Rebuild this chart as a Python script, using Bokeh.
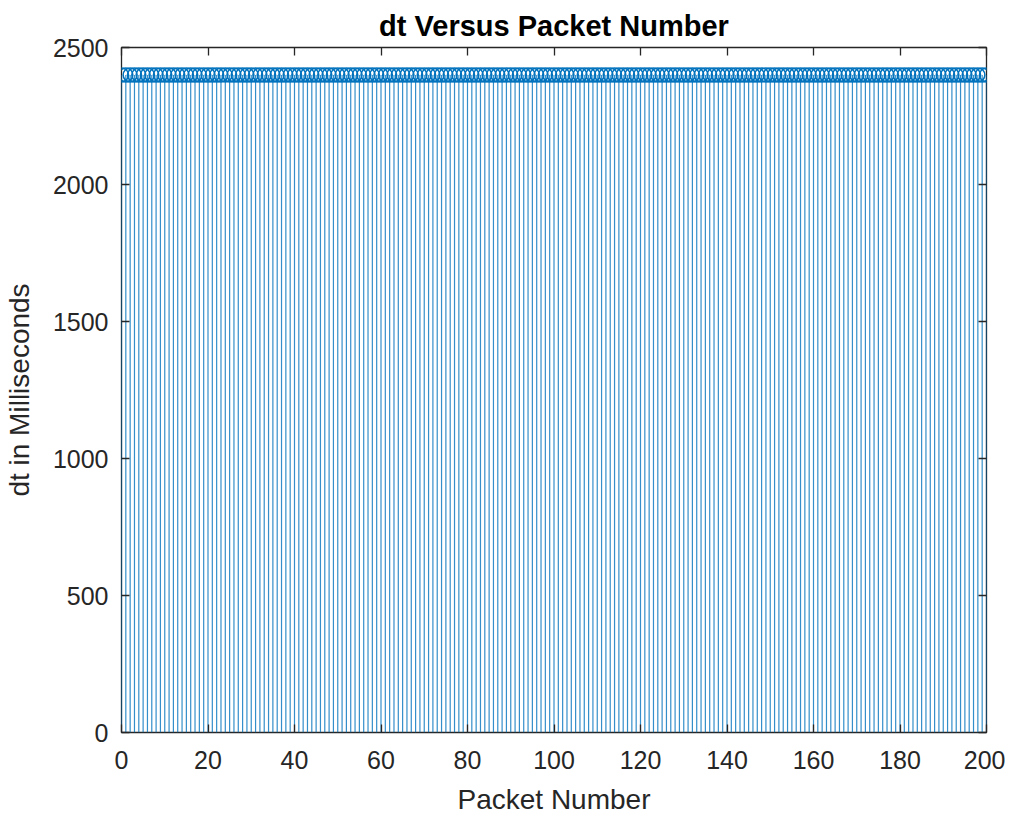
from bokeh.plotting import figure
from bokeh.models import LinearAxis, FixedTicker, Range1d, Title, CustomJSTickFormatter
from bokeh.embed import file_html
from bokeh.resources import INLINE

# ---- data ----
packet_number = list(range(0, 201))
dt_ms = [
    2400, 2400, 2400, 2400, 2400, 2400, 2400, 2400, 2400, 2400,
    2400, 2400, 2400, 2400, 2400, 2400, 2400, 2400, 2400, 2400,
    2400, 2400, 2400, 2400, 2400, 2400, 2400, 2400, 2400, 2400,
    2400, 2400, 2400, 2400, 2400, 2400, 2400, 2400, 2400, 2400,
    2400, 2400, 2400, 2400, 2400, 2400, 2400, 2400, 2400, 2400,
    2400, 2400, 2400, 2400, 2400, 2400, 2400, 2400, 2400, 2400,
    2400, 2400, 2400, 2400, 2400, 2400, 2400, 2400, 2400, 2400,
    2400, 2400, 2400, 2400, 2400, 2400, 2400, 2400, 2400, 2400,
    2400, 2400, 2400, 2400, 2400, 2400, 2400, 2400, 2400, 2400,
    2400, 2400, 2400, 2400, 2400, 2400, 2400, 2400, 2400, 2400,
    2400, 2400, 2400, 2400, 2400, 2400, 2400, 2400, 2400, 2400,
    2400, 2400, 2400, 2400, 2400, 2400, 2400, 2400, 2400, 2400,
    2400, 2400, 2400, 2400, 2400, 2400, 2400, 2400, 2400, 2400,
    2400, 2400, 2400, 2400, 2400, 2400, 2400, 2400, 2400, 2400,
    2400, 2400, 2400, 2400, 2400, 2400, 2400, 2400, 2400, 2400,
    2400, 2400, 2400, 2400, 2400, 2400, 2400, 2400, 2400, 2400,
    2400, 2400, 2400, 2400, 2400, 2400, 2400, 2400, 2400, 2400,
    2400, 2400, 2400, 2400, 2400, 2400, 2400, 2400, 2400, 2400,
    2400, 2400, 2400, 2400, 2400, 2400, 2400, 2400, 2400, 2400,
    2400, 2400, 2400, 2400, 2400, 2400, 2400, 2400, 2400, 2400,
    2400,
]
zeros = [0] * len(packet_number)
x_ticks = [0, 20, 40, 60, 80, 100, 120, 140, 160, 180, 200]
y_ticks = [0, 500, 1000, 1500, 2000, 2500]

FONT = "Liberation Sans"
TXT = "#262626"
BLUE = "#0072BD"

p = figure(width=1005, height=817, output_backend="svg", toolbar_location=None,
           x_range=Range1d(0, 200), y_range=Range1d(0, 2500),
           min_border_left=120, min_border_right=19, min_border_top=47,
           min_border_bottom=80, title=None)

p.grid.visible = False
p.background_fill_color = "white"
p.border_fill_color = "white"
p.outline_line_color = TXT
p.outline_line_width = 1.3

p.segment(x0=packet_number, y0=zeros, x1=packet_number, y1=dt_ms,
          line_color=BLUE, line_width=1.2, line_alpha=0.8)
p.scatter(x=packet_number, y=dt_ms, marker="circle", size=14,
          fill_color=None, line_color=BLUE, line_width=1.5)

def style_axis(ax, show_labels):
    ax.axis_line_color = None
    ax.major_tick_in = 8
    ax.major_tick_out = 0
    ax.minor_tick_line_color = None
    ax.major_tick_line_color = TXT
    ax.major_tick_line_width = 1.3
    ax.major_label_text_font = FONT
    ax.major_label_text_color = TXT
    ax.major_label_text_font_size = "25px"
    if not show_labels:
        ax.formatter = CustomJSTickFormatter(code="return '';")
        ax.major_label_standoff = 0

xa = p.below[0]
ya = p.left[0]

# top / right box axes (ticks only) — added before the title so they sit next to the frame
top = LinearAxis(ticker=FixedTicker(ticks=x_ticks))
style_axis(top, False)
p.add_layout(top, "above")
right = LinearAxis(ticker=FixedTicker(ticks=y_ticks))
style_axis(right, False)
p.add_layout(right, "right")

p.add_layout(Title(text="dt Versus Packet Number", align="center",
                   text_font=FONT, text_font_size="29px", text_font_style="bold",
                   text_color="black", standoff=11, offset=0), "above")

xa.ticker = FixedTicker(ticks=x_ticks)
style_axis(xa, True)
xa.major_label_standoff = 18
xa.axis_label = "Packet Number"
xa.axis_label_text_font = FONT
xa.axis_label_text_font_size = "28px"
xa.axis_label_text_font_style = "normal"
xa.axis_label_text_color = TXT
xa.axis_label_standoff = 12

ya.ticker = FixedTicker(ticks=y_ticks)
style_axis(ya, True)
ya.major_label_standoff = 13
ya.axis_label = "dt in Milliseconds"
ya.axis_label_text_font = FONT
ya.axis_label_text_font_size = "28px"
ya.axis_label_text_font_style = "normal"
ya.axis_label_text_color = TXT
ya.axis_label_standoff = 15

open("out.html", "w").write(file_html(p, INLINE))
